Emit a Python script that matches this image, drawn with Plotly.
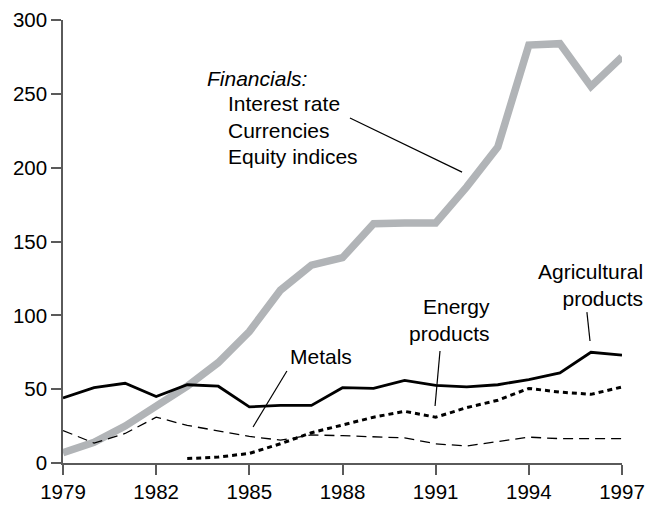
import plotly.graph_objects as go

years = list(range(1979, 1998))
financials = [7, 14, 25, 39, 52, 68, 89, 117, 134, 139, 162, 162.5, 162.5, 187, 214, 283, 284, 255, 275]
agricultural = [44, 51, 54, 45, 53, 52, 38, 39, 39, 51, 50.5, 56, 52.5, 51.5, 53, 56.5, 61, 75, 73]
energy_years = list(range(1983, 1998))
energy = [3, 4, 6.5, 13, 20.5, 25.5, 31, 35, 31, 37.5, 42.5, 50.5, 48, 46.5, 51.5]
metals = [22, 13.5, 20, 31, 25.5, 21.5, 18, 15.5, 19, 18.5, 17.5, 17, 13, 11.5, 14.5, 17.5, 16.5, 16.5, 16.5]

tick_years = [1979, 1982, 1985, 1988, 1991, 1994, 1997]
y_ticks = [0, 50, 100, 150, 200, 250, 300]

FONT = "Liberation Sans, Arial, Helvetica, sans-serif"
AXIS_COLOR = "#5a5a5a"

fig = go.Figure()
fig.add_scatter(x=years, y=financials, mode="lines", line=dict(color="#b1b4b7", width=7.5))
fig.add_scatter(x=years, y=metals, mode="lines", line=dict(color="black", width=1.3, dash="10px,6px"))
fig.add_scatter(x=energy_years, y=energy, mode="lines", line=dict(color="black", width=3, dash="5px,4px"))
fig.add_scatter(x=years, y=agricultural, mode="lines", line=dict(color="black", width=2.8))

text_font = dict(family=FONT, size=21, color="black")
labels = [
    ("<i>Financials:</i>", 1983.57, 260.7, "left", "x"),
    ("Interest rate", 1984.25, 243.7, "left", "x"),
    ("Currencies", 1984.25, 225.5, "left", "x"),
    ("Equity indices", 1984.25, 207.9, "left", "x"),
    ("Metals", 1986.25, 71.8, "left", "x"),
    ("Energy<br>products", 1992.81, 96.8, "right", "x"),
    ("Agricultural<br>products", 1.041, 120.5, "right", "paper"),
]
for text, x, y, anchor, xref in labels:
    fig.add_annotation(x=x, y=y, xref=xref, yref="y", text=text, showarrow=False,
                       xanchor=anchor, yanchor="middle", align=anchor, font=text_font)

leaders = [
    (1988.24, 233.6, 1991.85, 197),
    (1986.21, 62.3, 1985.12, 24.4),
    (1991.14, 75.8, 1990.98, 38.6),
    (1995.87, 102.2, 1995.97, 82.6),
]
for x0, y0, x1, y1 in leaders:
    fig.add_shape(type="line", x0=x0, y0=y0, x1=x1, y1=y1, xref="x", yref="y",
                  line=dict(color="black", width=1.2))

# the page body adds an 8px offset, so margins are shifted to compensate
fig.update_layout(
    width=659, height=528,
    margin=dict(l=55, r=45, t=12, b=73),
    plot_bgcolor="white", paper_bgcolor="white",
    showlegend=False,
    font=dict(family=FONT, size=20.5, color="black"),
)
axis_style = dict(showgrid=False, zeroline=False, automargin=False,
                  showline=True, linecolor=AXIS_COLOR, linewidth=1.5,
                  ticks="outside", ticklen=10, tickcolor=AXIS_COLOR, tickwidth=1.5)
fig.update_xaxes(range=[1979, 1997], tickvals=tick_years, **axis_style)
fig.update_yaxes(range=[0, 300], tickvals=y_ticks, **axis_style)

fig.write_html("out.html")
